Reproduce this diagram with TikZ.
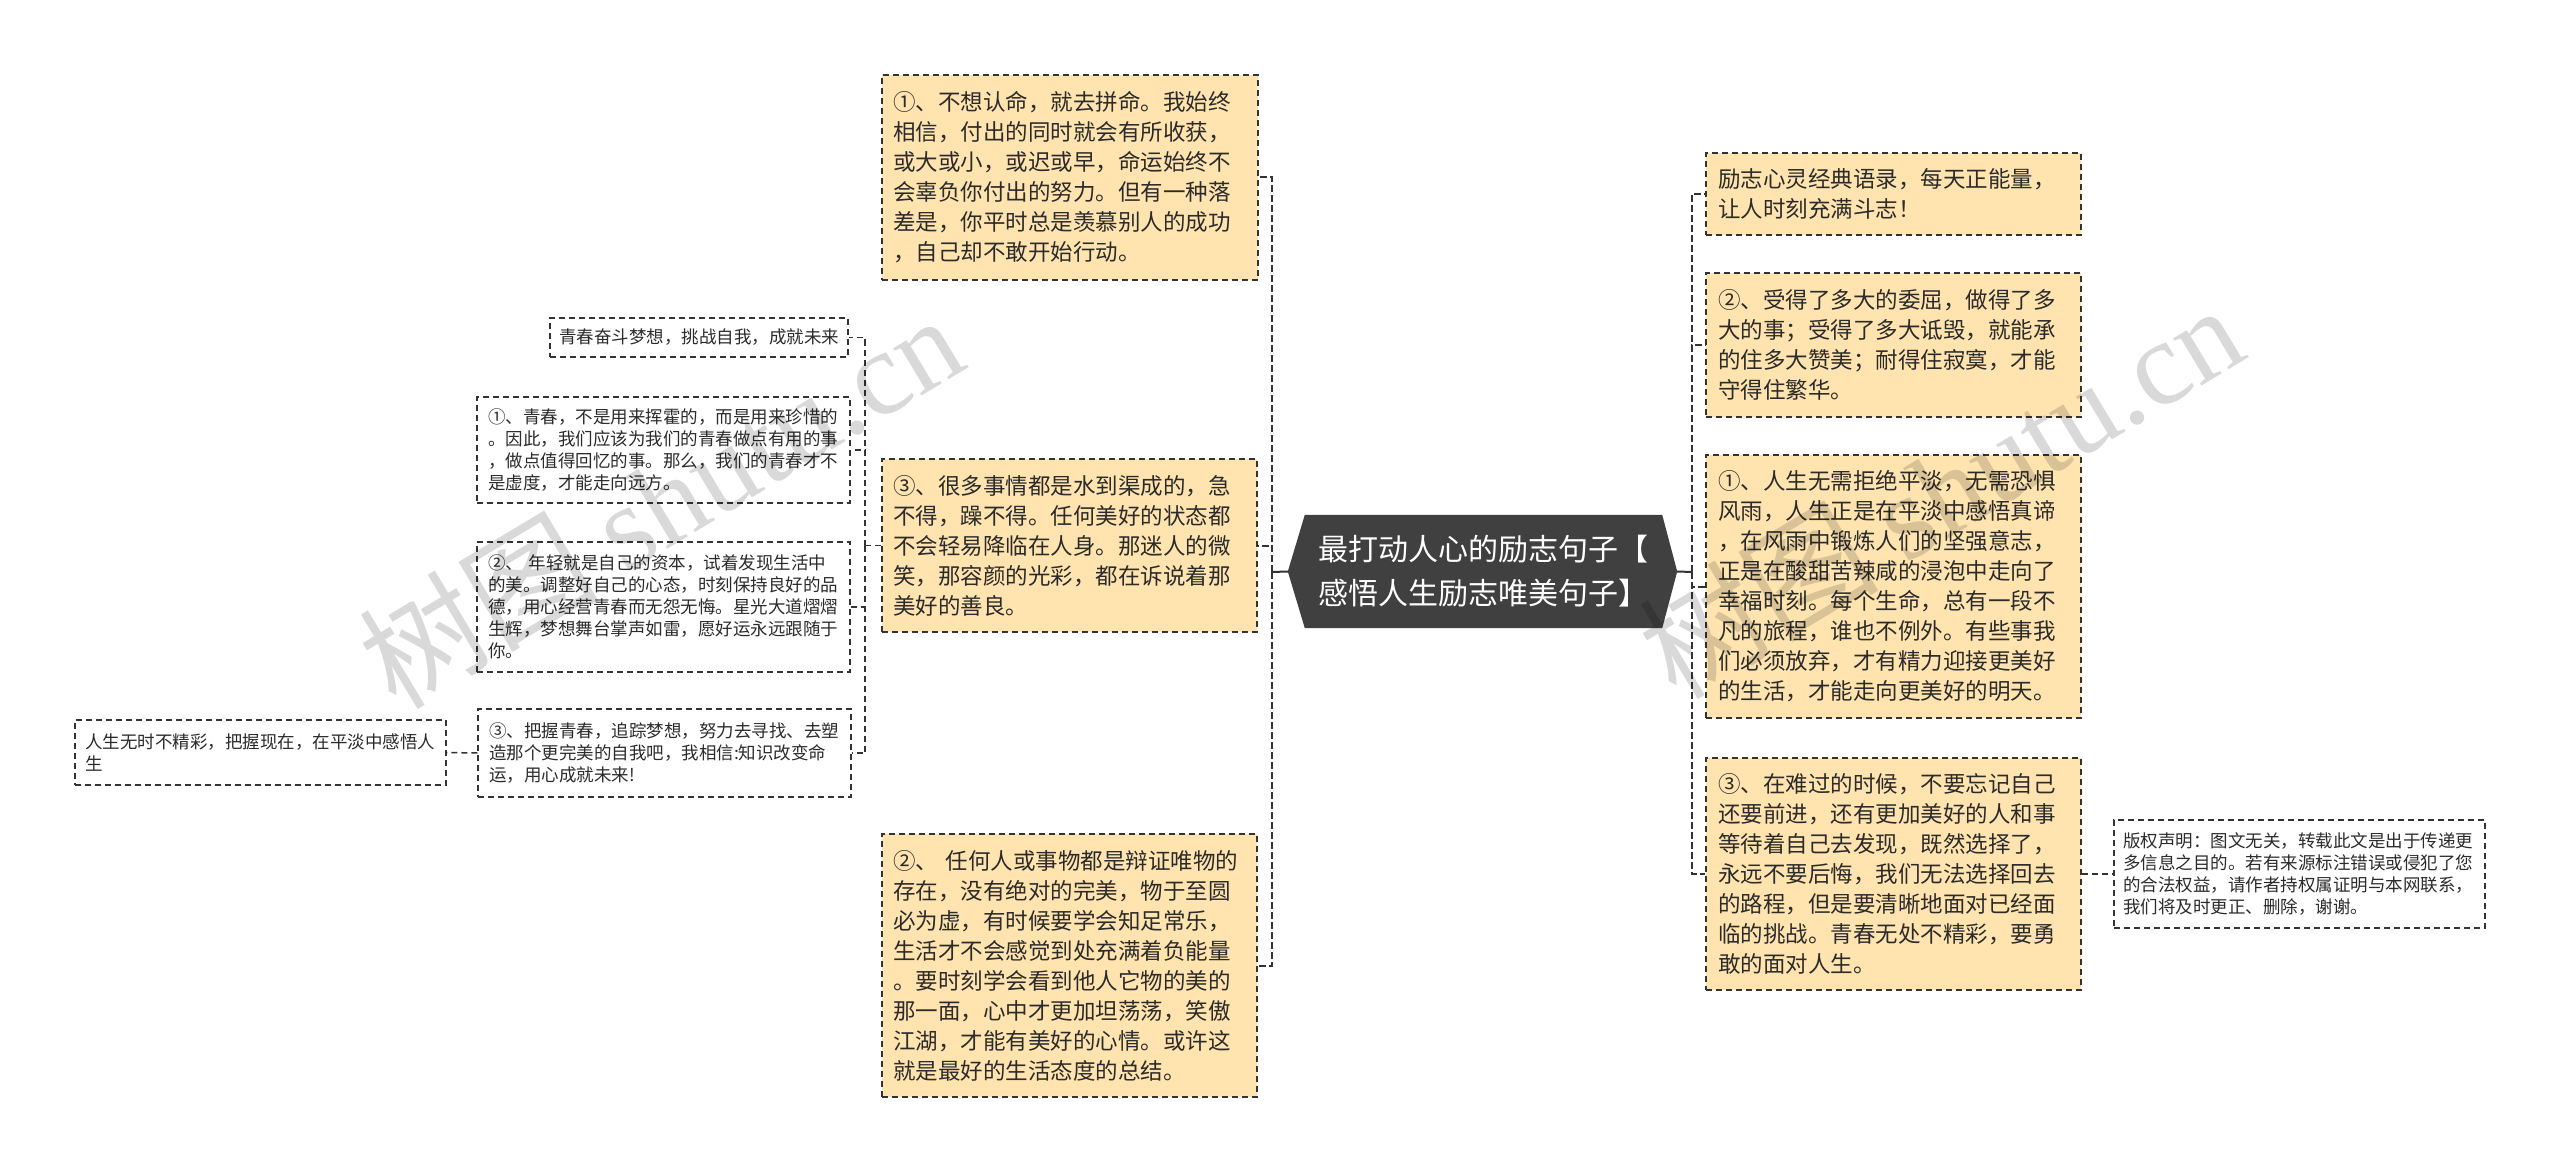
\documentclass[tikz,border=0pt]{standalone}
\usepackage{fontspec}
\setmainfont{Noto Sans CJK SC}
\newfontfamily\wmlatin{Liberation Serif}
\usetikzlibrary{backgrounds}
\definecolor{boxfill}{HTML}{FFE4B0}
\definecolor{bordercol}{HTML}{333333}
\definecolor{textcol}{HTML}{2B2B2B}
\definecolor{rootfill}{HTML}{404040}
\definecolor{linecol}{HTML}{333333}
\tikzset{
  notebox/.style={draw=bordercol, line width=1.5pt, dash pattern=on 6pt off 4pt,
    fill=boxfill, text=textcol, align=left, inner sep=0pt,
    font=\fontsize{22.5}{30}\selectfont},
  smallbox/.style={draw=bordercol, line width=1.4pt, dash pattern=on 6pt off 4pt,
    fill=white, text=textcol, align=left, inner sep=0pt,
    font=\fontsize{17.5}{22}\selectfont},
  roottext/.style={text=white, align=center, inner sep=0pt,
    minimum width=357pt, minimum height=113pt,
    font=\fontsize{30}{44}\selectfont},
  conn/.style={draw=linecol, line width=2pt, dash pattern=on 7pt off 3pt},
  subconn/.style={draw=linecol, line width=1.5pt, dash pattern=on 6pt off 4pt},
  rootline/.style={draw=linecol, line width=2pt},
  watermark/.style={text=black, text opacity=0.15, rotate=31,
    font=\fontsize{120}{120}\selectfont}
}
\begin{document}
\begin{tikzpicture}[x=1pt,y=-1pt]
\useasboundingbox (0,0) rectangle (2560,1174);
\begin{scope}[on background layer]
  \fill[white] (0,0) rectangle (2560,1174);
\end{scope}

% root
\node[roottext] (root) at (1483.5,571.5) {最打动人心的励志句子【\\感悟人生励志唯美句子】};
\coordinate (rootL) at ([xshift=-17pt]root.west);
\coordinate (rootR) at ([xshift=15pt]root.east);
\begin{scope}[on background layer]
  \fill[rootfill] (root.north west) -- (root.north east) -- (rootR)
    -- (root.south east) -- (root.south west) -- (rootL) -- cycle;
\end{scope}

% left main children
\node[notebox, minimum width=376pt, minimum height=205pt, text width=354pt] (A) at (1070,177.5)
{①、不想认命，就去拼命。我始终\\相信，付出的同时就会有所收获，\\或大或小，或迟或早，命运始终不\\会辜负你付出的努力。但有一种落\\差是，你平时总是羡慕别人的成功\\，自己却不敢开始行动。};
\node[notebox, minimum width=375pt, minimum height=173pt, text width=353pt] (B) at (1069.5,545.5)
{③、很多事情都是水到渠成的，急\\不得，躁不得。任何美好的状态都\\不会轻易降临在人身。那迷人的微\\笑，那容颜的光彩，都在诉说着那\\美好的善良。};
\node[notebox, minimum width=375pt, minimum height=263pt, text width=353pt] (C) at (1069.5,965.5)
{②、 任何人或事物都是辩证唯物的\\存在，没有绝对的完美，物于至圆\\必为虚，有时候要学会知足常乐，\\生活才不会感觉到处充满着负能量\\。要时刻学会看到他人它物的美的\\那一面，心中才更加坦荡荡，笑傲\\江湖，才能有美好的心情。或许这\\就是最好的生活态度的总结。};

% right main children
\node[notebox, minimum width=375pt, minimum height=82pt, text width=351pt] (R1) at (1893.5,194)
{励志心灵经典语录，每天正能量，\\让人时刻充满斗志！};
\node[notebox, minimum width=375pt, minimum height=144pt, text width=351pt] (R2) at (1893.5,345)
{②、受得了多大的委屈，做得了多\\大的事；受得了多大诋毁，就能承\\的住多大赞美；耐得住寂寞，才能\\守得住繁华。};
\node[notebox, minimum width=375pt, minimum height=263pt, text width=351pt] (R3) at (1893.5,586.5)
{①、人生无需拒绝平淡，无需恐惧\\风雨，人生正是在平淡中感悟真谛\\，在风雨中锻炼人们的坚强意志，\\正是在酸甜苦辣咸的浸泡中走向了\\幸福时刻。每个生命，总有一段不\\凡的旅程，谁也不例外。有些事我\\们必须放弃，才有精力迎接更美好\\的生活，才能走向更美好的明天。};
\node[notebox, minimum width=375pt, minimum height=232pt, text width=351pt] (R4) at (1893.5,874)
{③、在难过的时候，不要忘记自己\\还要前进，还有更加美好的人和事\\等待着自己去发现，既然选择了，\\永远不要后悔，我们无法选择回去\\的路程，但是要清晰地面对已经面\\临的挑战。青春无处不精彩，要勇\\敢的面对人生。};
\node[smallbox, minimum width=371pt, minimum height=108pt, text width=353pt] (CR) at (2299.5,874)
{版权声明：图文无关，转载此文是出于传递更\\多信息之目的。若有来源标注错误或侵犯了您\\的合法权益，请作者持权属证明与本网联系，\\我们将及时更正、删除，谢谢。};

% left sub-children of B
\node[smallbox, minimum width=298pt, minimum height=39pt, text width=280pt] (L0) at (699,337.5)
{青春奋斗梦想，挑战自我，成就未来};
\node[smallbox, minimum width=373pt, minimum height=106pt, text width=351pt] (L1) at (663.5,450)
{①、青春，不是用来挥霍的，而是用来珍惜的\\。因此，我们应该为我们的青春做点有用的事\\，做点值得回忆的事。那么，我们的青春才不\\是虚度，才能走向远方。};
\node[smallbox, minimum width=373pt, minimum height=130pt, text width=351pt] (L2) at (663.5,607)
{②、 年轻就是自己的资本，试着发现生活中\\的美。调整好自己的心态，时刻保持良好的品\\德，用心经营青春而无怨无悔。星光大道熠熠\\生辉，梦想舞台掌声如雷，愿好运永远跟随于\\你。};
\node[smallbox, minimum width=373pt, minimum height=88pt, text width=351pt] (L3) at (664.5,753)
{③、把握青春，追踪梦想，努力去寻找、去塑\\造那个更完美的自我吧，我相信:知识改变命\\运，用心成就未来!};
\node[smallbox, minimum width=371pt, minimum height=65pt, text width=351pt] (L4) at (260.5,752.5)
{人生无时不精彩，把握现在，在平淡中感悟人\\生};

% connectors
\coordinate (jL) at (1272,572);
\coordinate (jR) at (1692,572);
\draw[rootline] (rootL) -- (jL);
\draw[rootline] (rootR) -- (jR);
\draw[conn] (jL) |- (A.east);
\draw[conn] (jL) |- (B.east);
\draw[conn] (jL) |- (C.east);
\draw[conn] (jR) |- (R1.west);
\draw[conn] (jR) |- (R2.west);
\draw[conn] (jR) |- (R3.west);
\draw[conn] (jR) |- (R4.west);
\draw[subconn] (R4.east) -- (CR.west);

\coordinate (jB) at (865,545.5);
\draw[subconn] (B.west) -- (jB);
\draw[subconn] (jB) |- (L0.east);
\draw[subconn] (jB) |- (L1.east);
\draw[subconn] (jB) |- (L2.east);
\draw[subconn] (jB) |- (L3.east);
\draw[subconn] (L3.west) -- (L4.east);

% watermarks
\node[watermark] (wm1) at (660,500) {树图 {\wmlatin shutu.cn}};
\node[watermark] (wm2) at (1940,490) {树图 {\wmlatin shutu.cn}};
\end{tikzpicture}
\end{document}
